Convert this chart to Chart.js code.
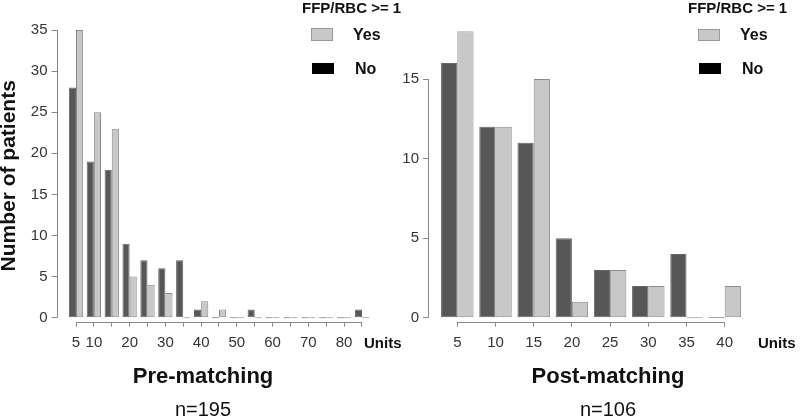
<!DOCTYPE html>
<html>
<head>
<meta charset="utf-8">
<script src="https://cdn.jsdelivr.net/npm/chart.js@4/dist/chart.umd.min.js"></script>
<style>
  body { margin: 0; background: #fff; font-family: "Liberation Sans", Arial, sans-serif; }
  #wrap { position: relative; width: 800px; height: 417px; overflow: hidden; }
  #wrap canvas { position: absolute; top: 0; }
  .txt { position: absolute; font-weight: bold; color: #111; white-space: nowrap; }
  .box { position: absolute; box-sizing: border-box; }
</style>
</head>
<body>
<div id="wrap">
  <canvas id="preChart" width="400" height="417" style="left:0"></canvas>
  <!-- a bit wider than half so its centred title lands under the plot -->
  <canvas id="postChart" width="416" height="417" style="left:400px"></canvas>

  <!-- legends + axis unit labels -->
  <div class="txt" style="left:302px;top:0;font-size:15px;line-height:15px">FFP/RBC &gt;= 1</div>
  <div class="box" style="left:311px;top:28px;width:22px;height:13px;background:#c8c8c8;border:1px solid #999"></div>
  <div class="txt" style="left:353px;top:27px;font-size:16px;line-height:16px">Yes</div>
  <div class="box" style="left:312px;top:63px;width:22px;height:11px;background:#000"></div>
  <div class="txt" style="left:355px;top:61px;font-size:16px;line-height:16px">No</div>
  <div class="txt" style="left:364px;top:335px;font-size:15px;line-height:16px">Units</div>

  <div class="txt" style="left:688px;top:0;font-size:15px;line-height:15px">FFP/RBC &gt;= 1</div>
  <div class="box" style="left:698px;top:29px;width:22px;height:12px;background:#c8c8c8;border:1px solid #999"></div>
  <div class="txt" style="left:740px;top:27px;font-size:16px;line-height:16px">Yes</div>
  <div class="box" style="left:699px;top:63px;width:22px;height:11px;background:#000"></div>
  <div class="txt" style="left:742px;top:61px;font-size:16px;line-height:16px">No</div>
  <div class="txt" style="left:758px;top:335px;font-size:15px;line-height:16px">Units</div>
</div>

<script>
// pre-matching
const preUnits = [5, 10, 15, 20, 25, 30, 35, 40, 45, 50, 55, 60, 65, 70, 75, 80, 85];
const preNo = [28, 19, 18, 9, 7, 6, 7, 1, 0, 0, 1, 0, 0, 0, 0, 0, 1];
const preYes = [35, 25, 23, 5, 4, 3, 0, 2, 1, 0, 0, 0, 0, 0, 0, 0, 0];
const preXLabels = [5, 10, 20, 30, 40, 50, 60, 70, 80];
const preYTicks = [0, 5, 10, 15, 20, 25, 30, 35];

// post-matching
const postUnits = [5, 10, 15, 20, 25, 30, 35, 40];
const postNo = [16, 12, 11, 5, 3, 2, 4, 0];
const postYes = [18, 12, 15, 1, 3, 2, 0, 2];
const postXLabels = [5, 10, 15, 20, 25, 30, 35, 40];
const postYTicks = [0, 5, 10, 15];

Chart.defaults.font.family = "'Liberation Sans', Arial, sans-serif";

// R style axes: lines only run from first to last tick
const rAxes = {
  id: "rAxes",
  afterDraw(chart, args, opts) {
    const { ctx, chartArea, scales: { x, y } } = chart;
    const yb = Math.round(chartArea.bottom) + 0.5;
    const xl = Math.round(chartArea.left) + 0.5;
    ctx.save();
    ctx.strokeStyle = "#888";
    ctx.lineWidth = 1;
    ctx.beginPath();
    ctx.moveTo(x.getPixelForValue(opts.xFrom), yb);
    ctx.lineTo(x.getPixelForValue(opts.xTo), yb);
    ctx.moveTo(xl, y.getPixelForValue(opts.yFrom));
    ctx.lineTo(xl, y.getPixelForValue(opts.yTo));
    ctx.stroke();
    ctx.restore();
  },
};

function makeChart(id, cfg) {
  const toPts = (xs, ys) => xs.map((u, i) => ({ x: u, y: ys[i] }));
  return new Chart(document.getElementById(id), {
    type: "bar",
    data: {
      datasets: [
        {
          label: "No",
          data: toPts(cfg.units, cfg.no),
          backgroundColor: "#575757",
          borderColor: "#666",
          borderWidth: 1,
          borderSkipped: false,
          minBarLength: 1,
        },
        {
          label: "Yes",
          data: toPts(cfg.units, cfg.yes),
          backgroundColor: "#c8c8c8",
          borderColor: "#8a8a8a",
          borderWidth: 1,
          borderSkipped: false,
          minBarLength: 1,
        },
      ],
    },
    options: {
      responsive: false,
      animation: false,
      devicePixelRatio: 1,
      categoryPercentage: cfg.catPct,
      barPercentage: 1,
      layout: { padding: cfg.padding },
      plugins: {
        legend: { display: false },
        tooltip: { enabled: false },
        title: {
          display: true,
          text: cfg.title,
          position: "bottom",
          weight: 1,
          color: "#111",
          font: { size: 22, weight: "bold" },
          padding: { top: 8.1, bottom: 0 },
        },
        subtitle: {
          display: true,
          text: cfg.n,
          position: "bottom",
          weight: 2,
          color: "#111",
          font: { size: 20, lineHeight: 0.7 },
          padding: { top: 12.8, bottom: 0 },
        },
        rAxes: {
          xFrom: cfg.units[0],
          xTo: cfg.units[cfg.units.length - 1],
          yFrom: 0,
          yTo: cfg.yTicks[cfg.yTicks.length - 1],
        },
      },
      scales: {
        x: {
          type: "linear",
          offset: false,
          min: cfg.xMin,
          max: cfg.xMax,
          afterBuildTicks: (s) => { s.ticks = cfg.units.map((v) => ({ value: v })); },
          afterFit: (s) => { s.height = 34; },
          grid: { offset: false, drawOnChartArea: false, drawTicks: true, tickLength: 5, color: "#888" },
          border: { display: false },
          ticks: {
            autoSkip: false,
            maxRotation: 0,
            padding: 7,
            color: "#333",
            font: { size: 15 },
            callback: (v) => (cfg.xLabels.includes(v) ? String(v) : ""),
          },
        },
        y: {
          min: cfg.yMin,
          max: cfg.yMax,
          afterBuildTicks: (s) => { s.ticks = cfg.yTicks.map((v) => ({ value: v })); },
          afterFit: (s) => { s.width = cfg.yWidth; },
          grid: { drawOnChartArea: false, drawTicks: true, tickLength: 5, color: "#888" },
          border: { display: false },
          ticks: { padding: 4, color: "#333", font: { size: 15 } },
          title: {
            display: cfg.yTitle !== "",
            text: cfg.yTitle,
            color: "#111",
            font: { size: 21, weight: "bold" },
            padding: { top: -9, bottom: 0 },
          },
        },
      },
    },
    plugins: [rAxes],
  });
}

makeChart("preChart", {
  units: preUnits, no: preNo, yes: preYes,
  xLabels: preXLabels, yTicks: preYTicks,
  xMin: -0.455, xMax: 95.63, yMin: -0.49, yMax: 35,
  yWidth: 50.5, catPct: 0.8,
  padding: { left: 6, right: 0, top: 30, bottom: 0 },
  title: "Pre-matching", n: "n=195", yTitle: "Number of patients",
});

makeChart("postChart", {
  units: postUnits, no: postNo, yes: postYes,
  xLabels: postXLabels, yTicks: postYTicks,
  xMin: 1.165, xMax: 51.95, yMin: -0.25, yMax: 18,
  yWidth: 28, catPct: 0.85,
  padding: { left: 0, right: 0, top: 31.3, bottom: 0 },
  title: "Post-matching", n: "n=106", yTitle: "",
});
</script>
</body>
</html>
